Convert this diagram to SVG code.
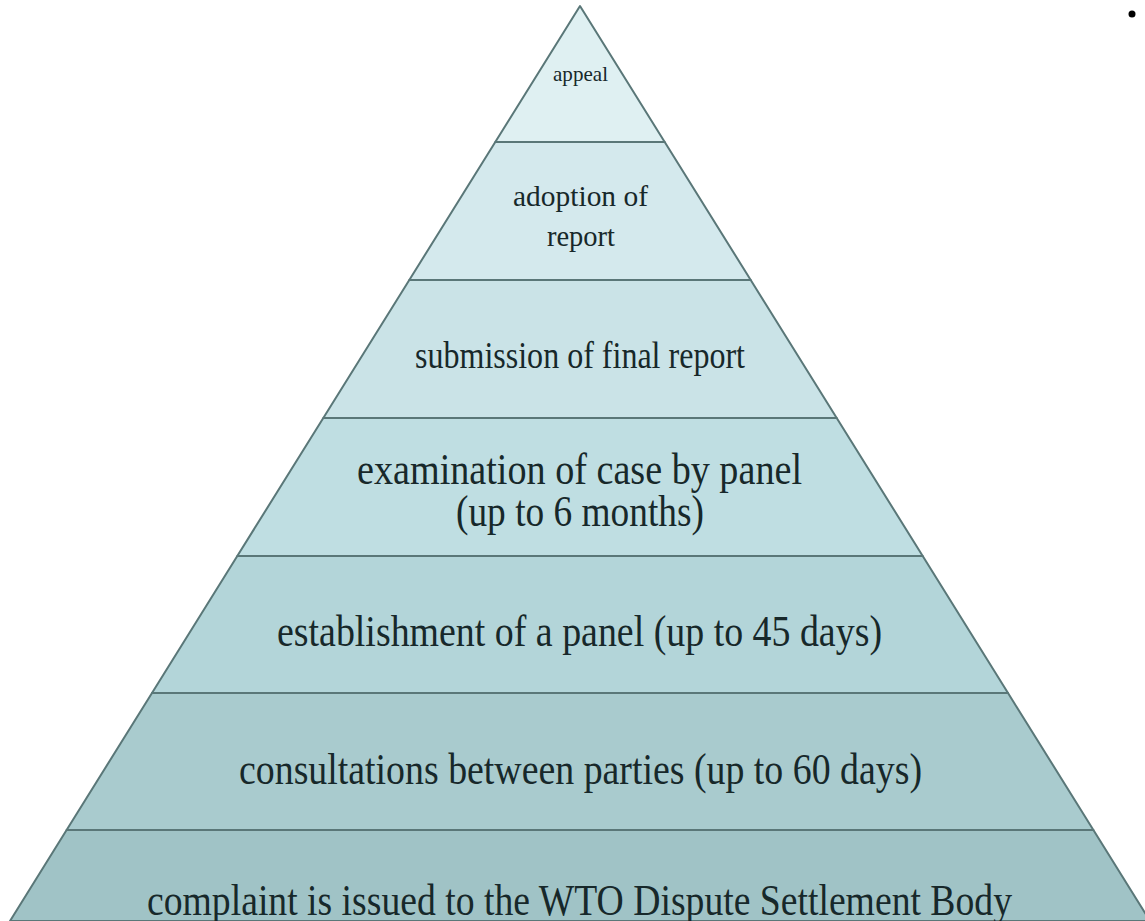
<svg xmlns="http://www.w3.org/2000/svg" width="1145" height="921" viewBox="0 0 1145 921">
<style>
.layer{stroke:#5a7778;stroke-width:2;stroke-linejoin:round}
.t{font-family:"Liberation Serif","Times New Roman",serif;fill:#17282a;text-anchor:middle}
</style>
<rect x="0" y="0" width="1145" height="921" fill="#ffffff"/>
<g id="layer-complaint">
<polygon class="layer" points="66.6,830 1093.4,830 1150,921 10,921" fill="#a0c3c6"/>
<text class="t" x="579.5" y="915" font-size="45" textLength="865" lengthAdjust="spacingAndGlyphs">complaint is issued to the WTO Dispute Settlement Body</text>
</g>
<g id="layer-consultations">
<polygon class="layer" points="152,693 1008,693 1093.4,830 66.6,830" fill="#a9cbce"/>
<text class="t" x="580.5" y="784" font-size="45" textLength="683" lengthAdjust="spacingAndGlyphs">consultations between parties (up to 60 days)</text>
</g>
<g id="layer-establishment">
<polygon class="layer" points="237.3,556 922.7,556 1008,693 152,693" fill="#b3d5d9"/>
<text class="t" x="579.5" y="646" font-size="45" textLength="605" lengthAdjust="spacingAndGlyphs">establishment of a panel (up to 45 days)</text>
</g>
<g id="layer-examination">
<polygon class="layer" points="323.3,418 836.7,418 922.7,556 237.3,556" fill="#bfdee2"/>
<text class="t" x="579.5" y="484" font-size="45" textLength="445" lengthAdjust="spacingAndGlyphs">examination of case by panel</text>
<text class="t" x="580" y="526" font-size="45" textLength="248" lengthAdjust="spacingAndGlyphs">(up to 6 months)</text>
</g>
<g id="layer-submission">
<polygon class="layer" points="409.3,280 750.7,280 836.7,418 323.3,418" fill="#cae3e7"/>
<text class="t" x="580" y="368" font-size="37" textLength="330" lengthAdjust="spacingAndGlyphs">submission of final report</text>
</g>
<g id="layer-adoption">
<polygon class="layer" points="495.3,142 664.7,142 750.7,280 409.3,280" fill="#d4e9ed"/>
<text class="t" x="580.5" y="206" font-size="30" textLength="135" lengthAdjust="spacingAndGlyphs">adoption of</text>
<text class="t" x="581" y="246" font-size="30" textLength="68" lengthAdjust="spacingAndGlyphs">report</text>
</g>
<g id="layer-appeal">
<polygon class="layer" points="580,6 664.7,142 495.3,142" fill="#dff0f2"/>
<text class="t" x="580.5" y="81" font-size="22" textLength="55" lengthAdjust="spacingAndGlyphs">appeal</text>
</g>
<g id="connectors"></g>
<circle cx="1132" cy="14" r="3.5" fill="#000000"/>
</svg>
